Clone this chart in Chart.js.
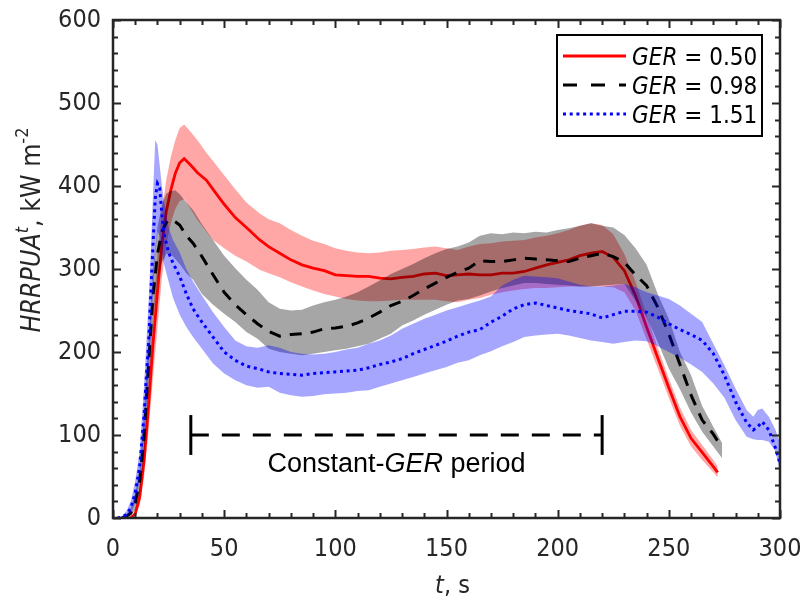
<!DOCTYPE html>
<html lang="en">
<head>
<meta charset="utf-8">
<title>HRRPUA - GER</title>
<script src="https://cdn.jsdelivr.net/npm/chart.js@4.4.0/dist/chart.umd.min.js"></script>
<style>
body { margin: 0; background: #fff; }
canvas { display: block; }
</style>
</head>
<body>
<canvas id="hrr" width="803" height="603"></canvas>
<script>
// GER = 0.50 (red): time, mean, band upper / lower
const tRed = [8,10,12,14,16,18,20,22,24,26,28,30,32,
  35,38,42,45,50,55,60,66,70,75,
  80,85,90,95,100,105,110,115,120,125,130,135,140,145,150,155,160,165,170,175,180,185,190,195,200,205,210,215,220,
  225,230,235,240,245,250,255,260,265,270,272];
const meanRed = [0,5,25,70,135,210,272,330,370,395,415,428,433,
  425,416,407,396,378,362,350,335,327,319,
  311,305,301,298,293,292,291,291,289,288,290,291,294,295,292,293,294,293,293,295,295,297,301,305,308,311,316,319,321,
  314,298,268,230,193,157,122,96,79,62,55];
const hiRed = [0,8,35,90,165,245,318,370,408,435,455,470,474,
  465,455,440,430,413,396,380,367,360,355,
  347,340,334,330,325,322,320,319,320,322,323,324,326,327,325,323,327,330,331,333,334,335,338,340,343,347,352,355,353,
  342,318,285,245,205,168,133,106,88,70,62];
const loRed = [0,2,15,50,105,170,230,290,330,355,372,382,384,
  372,359,345,335,325,316,309,299,295,290,
  284,279,274,270,267,264,262,261,261,262,263,263,263,263,261,260,263,265,269,272,274,276,277,277,278,279,279,279,279,
  278,272,250,215,180,145,111,86,70,55,49];

// GER = 0.98 (black)
const tBlack = [4,6,8,10,12,14,16,18,20,22,24,26,28,30,
  33,36,40,45,50,55,60,65,70,75,
  80,85,90,95,100,105,110,115,120,125,130,135,140,145,150,155,160,165,170,175,180,185,190,195,200,205,210,215,220,
  225,230,235,240,245,250,255,260,265,270,274];
const meanBlack = [0,2,6,18,45,100,185,268,318,345,356,360,357,353,
  340,331,315,293,272,257,245,234,225,219,
  221,222,224,228,229,231,235,241,248,256,261,268,276,283,290,296,301,310,309,309,311,313,312,311,310,309,313,316,319,
  315,308,293,280,254,222,185,148,118,101,84];
const hiBlack = [0,4,12,30,60,130,215,300,350,378,391,394,395,390,
  380,371,354,335,316,301,287,275,260,252,
  250,251,256,260,263,267,272,279,286,294,300,306,313,319,324,327,332,340,343,342,344,343,345,344,347,349,352,355,352,
  350,341,325,305,270,240,200,172,135,110,90];
const loBlack = [0,0,2,10,30,75,155,235,285,308,318,318,312,306,
  295,287,270,257,246,236,224,216,204,200,
  198,196,198,200,202,204,207,210,216,222,232,238,245,251,257,262,264,268,273,277,280,283,283,282,281,280,279,279,280,
  281,282,262,242,212,180,155,127,104,86,72];

// GER = 1.51 (blue)
const tBlue = [2,4,6,8,10,12,14,15,16,17,18,19,20,21,22,23,25,27,30,33,36,40,45,
  50,55,60,65,70,75,80,85,90,95,100,105,110,115,120,125,130,135,140,145,150,155,160,165,170,175,180,185,190,195,
  200,205,210,215,220,225,230,235,240,245,250,255,260,265,270,275,280,285,
  288,290,292,295,298,300];
const meanBlue = [0,1,4,12,30,62,125,170,210,270,330,385,403,398,365,342,320,307,291,270,252,236,218,
  200,190,183,180,176,174,173,172,174,175,176,177,178,181,185,188,192,198,203,208,213,219,224,227,236,243,252,257,259,256,
  253,250,248,246,241,245,249,249,248,242,234,227,221,214,198,172,140,115,
  106,110,116,106,84,66];
const hiBlue = [0,2,8,20,45,80,160,210,260,320,390,455,450,425,400,380,350,335,320,300,285,268,248,
  230,214,207,205,208,205,200,198,197,198,200,203,205,210,214,220,228,234,240,245,250,254,258,262,267,280,287,292,291,290,
  289,285,281,279,279,280,282,278,272,268,264,256,246,236,210,184,156,130,
  122,130,132,122,106,90];
const loBlue = [0,0,1,5,18,45,95,130,170,220,270,320,345,340,320,305,285,265,245,230,218,204,186,
  174,166,160,157,158,151,148,146,147,149,150,151,153,154,158,162,166,170,174,178,182,187,190,196,201,207,212,218,220,221,
  222,220,217,214,212,210,212,214,213,207,200,193,185,176,162,145,118,98,
  95,94,94,92,80,55];

const seriesLabels = ['0.50', '0.98', '1.51'];

// constant-GER period marker
const periodT = [35, 220];
const periodLevel = 100;
const periodCap = [76, 124];

// axes
const xMax = 300, xStep = 50, xMinor = 10;
const yMax = 600, yStep = 100, yMinor = 20;

const FAMILY = '"DejaVu Sans Condensed", "DejaVu Sans", sans-serif';
const NOTE_FAMILY = '"Liberation Sans", Arial, sans-serif';
const AXIS = '#262626';

function pts(t, v) { return t.map((x, i) => ({x: x, y: v[i]})); }

function lineSet(t, v, color, width, dash) {
  return {data: pts(t, v), borderColor: color, borderWidth: width, borderDash: dash,
    pointRadius: 0, fill: false, tension: 0};
}
function edgeSet(t, v, fillColor, fill) {
  return {data: pts(t, v), borderColor: 'rgba(0,0,0,0)', borderWidth: 1, pointRadius: 0,
    backgroundColor: fillColor, fill: fill, tension: 0};
}

function fontOf(p) {
  return (p.italic ? 'italic ' : '') + (p.size || 25) + 'px ' + (p.family || FAMILY);
}
function richText(ctx, parts, x, y, align) {
  let w = 0;
  parts.forEach(p => { ctx.font = fontOf(p); p.w = ctx.measureText(p.text).width; w += p.w; });
  let cx = align === 'center' ? x - w / 2 : x;
  parts.forEach(p => {
    ctx.font = fontOf(p);
    ctx.fillText(p.text, cx, y - (p.up || 0));
    cx += p.w;
  });
}

function noPad(s) { s.paddingLeft = 0; s.paddingRight = 0; s.paddingTop = 0; s.paddingBottom = 0; }

// box, inward ticks, labels, legend
const decor = {
  id: 'decor',
  afterDatasetsDraw(chart) {
    const ctx = chart.ctx, a = chart.chartArea;
    const xs = chart.scales.x, ys = chart.scales.y;
    ctx.save();
    ctx.strokeStyle = AXIS;
    ctx.lineWidth = 2;
    ctx.beginPath();
    for (let v = 0; v <= xMax; v += xMinor) {
      const len = v % xStep === 0 ? 8 : 5;
      const px = Math.round(xs.getPixelForValue(v)) + 0.5;
      ctx.moveTo(px, a.bottom); ctx.lineTo(px, a.bottom - len);
      ctx.moveTo(px, a.top); ctx.lineTo(px, a.top + len);
    }
    for (let v = 0; v <= yMax; v += yMinor) {
      const len = v % yStep === 0 ? 8 : 5;
      const py = Math.round(ys.getPixelForValue(v)) + 0.5;
      ctx.moveTo(a.left, py); ctx.lineTo(a.left + len, py);
      ctx.moveTo(a.right, py); ctx.lineTo(a.right - len, py);
    }
    ctx.stroke();
    ctx.lineWidth = 2.5;
    ctx.strokeRect(a.left, a.top, a.right - a.left, a.bottom - a.top);

    // period text
    ctx.fillStyle = '#000';
    ctx.textBaseline = 'alphabetic';
    richText(ctx, [{text: 'Constant-', size: 27, family: NOTE_FAMILY},
      {text: 'GER', italic: true, size: 27, family: NOTE_FAMILY},
      {text: ' period', size: 27, family: NOTE_FAMILY}],
      xs.getPixelForValue((periodT[0] + periodT[1]) / 2), ys.getPixelForValue(periodLevel) + 37, 'center');

    // axis titles
    ctx.fillStyle = AXIS;
    richText(ctx, [{text: 't', italic: true}, {text: ', s'}], (a.left + a.right) / 2 + 6, a.bottom + 75, 'center');
    ctx.save();
    ctx.translate(40, 230);
    ctx.rotate(-Math.PI / 2);
    richText(ctx, [{text: 'HRRPUA', italic: true, size: 26.5}, {text: 't', italic: true, size: 18, up: 12},
      {text: ', kW m', size: 26.5}, {text: '-2', size: 18, up: 12}], 0, 0, 'center');
    ctx.restore();

    // legend
    const bx = a.right - 223, by = a.top + 15, bw = 205, bh = 101;
    ctx.fillStyle = '#fff';
    ctx.fillRect(bx, by, bw, bh);
    ctx.strokeStyle = '#000';
    ctx.lineWidth = 2;
    ctx.strokeRect(bx, by, bw, bh);
    const styles = [
      {color: '#ff0000', dash: [], width: 3},
      {color: '#000000', dash: [14, 14], width: 3},
      {color: '#0000ff', dash: [3, 3.7], width: 3}
    ];
    styles.forEach((s, i) => {
      const cy = by + 21 + i * 29;
      ctx.beginPath();
      ctx.setLineDash(s.dash);
      ctx.strokeStyle = s.color;
      ctx.lineWidth = s.width;
      ctx.moveTo(bx + 6, cy); ctx.lineTo(bx + 69, cy);
      ctx.stroke();
      ctx.setLineDash([]);
      ctx.fillStyle = '#000';
      richText(ctx, [{text: 'GER', italic: true, size: 24}, {text: ' = ' + seriesLabels[i], size: 24}],
        bx + 75, cy + 9, 'left');
    });
    ctx.restore();
  }
};

new Chart(document.getElementById('hrr'), {
  type: 'line',
  data: {
    datasets: [
      lineSet(tBlue, meanBlue, '#0000ff', 3, [3, 3.7]),
      edgeSet(tBlue, hiBlue, 'rgba(0,0,255,0.35)', '+1'),
      edgeSet(tBlue, loBlue, 'rgba(0,0,0,0)', false),
      lineSet(tBlack, meanBlack, '#000000', 3, [12, 9]),
      edgeSet(tBlack, hiBlack, 'rgba(0,0,0,0.35)', '+1'),
      edgeSet(tBlack, loBlack, 'rgba(0,0,0,0)', false),
      lineSet(tRed, meanRed, '#ff0000', 2.8, []),
      edgeSet(tRed, hiRed, 'rgba(255,0,0,0.35)', '+1'),
      edgeSet(tRed, loRed, 'rgba(0,0,0,0)', false),
      lineSet(periodT, [periodLevel, periodLevel], '#000000', 3, [18, 13]),
      lineSet([periodT[0], periodT[0]], periodCap, '#000000', 3, []),
      lineSet([periodT[1], periodT[1]], periodCap, '#000000', 3, [])
    ]
  },
  options: {
    responsive: false,
    animation: false,
    devicePixelRatio: 1,
    layout: {padding: {top: 20, right: 23, left: 0, bottom: 0}},
    plugins: {legend: {display: false}, tooltip: {enabled: false}},
    scales: {
      x: {
        type: 'linear', min: 0, max: xMax,
        grid: {display: false, drawTicks: false},
        border: {display: false},
        ticks: {stepSize: xStep, padding: 16, color: AXIS, font: {family: FAMILY, size: 25}, maxRotation: 0},
        afterFit(s) { s.height = 85; noPad(s); }
      },
      y: {
        type: 'linear', min: 0, max: yMax,
        grid: {display: false, drawTicks: false},
        border: {display: false},
        ticks: {stepSize: yStep, padding: 12, color: AXIS, font: {family: FAMILY, size: 25}},
        afterFit(s) { s.width = 113; noPad(s); }
      }
    }
  },
  plugins: [decor]
});
</script>
</body>
</html>
